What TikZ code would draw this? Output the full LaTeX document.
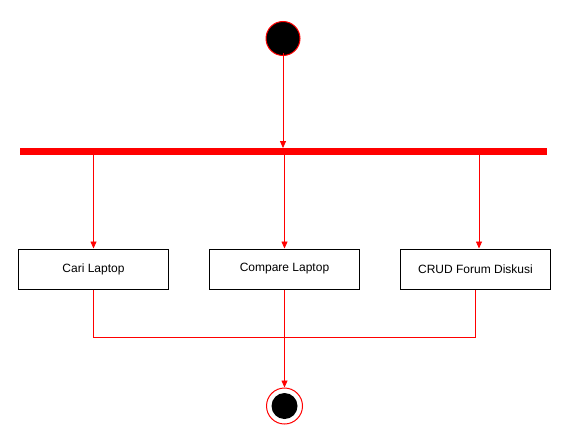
\documentclass[tikz,border=0pt]{standalone}
\usepackage{fontspec}
\setmainfont{Liberation Sans}
\usetikzlibrary{arrows.meta}
\begin{document}
\begin{tikzpicture}[x=1pt,y=-1pt,
  act/.style={draw=black, fill=white, minimum width=150pt, minimum height=40pt, inner sep=0pt, line width=1pt, font=\fontsize{12}{14}\selectfont},
  flow/.style={draw=red, line width=0.8pt, -{Triangle[length=7pt,width=6pt]}},
  plain/.style={draw=red, line width=0.8pt}]
\useasboundingbox (0,0) rectangle (561,436);
\node[circle, fill=black, draw=red, line width=1pt, minimum size=34pt, inner sep=0pt] (start) at (283,38.5) {};
\node[fill=red, minimum width=527pt, minimum height=6.5pt, inner sep=0pt] (bar) at (283.5,151.5) {};
\node[act] (c1) at (93.5,269) {Cari Laptop};
\node[act] (c2) at (284.5,269) {Compare Laptop};
\node[act] (c3) at (475.5,269) {CRUD Forum Diskusi};
\node[circle, draw=red, line width=1pt, minimum size=36pt, inner sep=0pt] (end) at (284.5,406) {};
\node[circle, fill=black, minimum size=26pt, inner sep=0pt] (endin) at (end.center) {};
\coordinate (r3) at ([xshift=3.5pt]c3.north);
\draw[flow] ([yshift=3pt]start.south) -- (start.south |- bar.north);
\draw[flow] (bar.south -| c1.north) -- (c1.north);
\draw[flow] (bar.south -| c2.north) -- (c2.north);
\draw[flow] (bar.south -| r3) -- (r3);
\draw[plain] (c1.south) -- ++(0,48) -| (c3.south);
\draw[flow] (c2.south) -- (end.north);
\end{tikzpicture}
\end{document}
